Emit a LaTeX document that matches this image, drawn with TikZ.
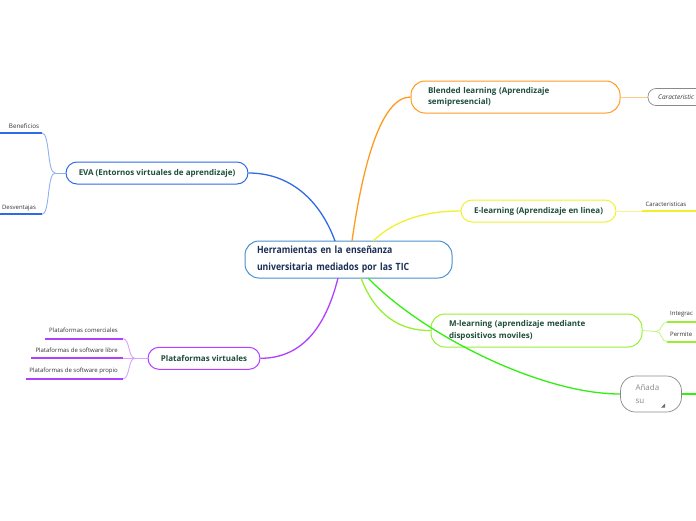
\documentclass[tikz,border=0pt]{standalone}
\usepackage{fontspec}
\setmainfont{Open Sans}
\newfontfamily\condensedfont[FakeStretch=0.87]{Open Sans}
\usetikzlibrary{calc}
\definecolor{cblue}{HTML}{4A90D0}
\definecolor{navy}{HTML}{1C2F55}
\definecolor{dgreen}{HTML}{1F4D3A}
\definecolor{bl}{HTML}{2E6BE6}
\definecolor{bllt}{HTML}{8FB0F0}
\definecolor{orng}{HTML}{FF9B1F}
\definecolor{orlt}{HTML}{FFCB8A}
\definecolor{yel}{HTML}{F0F030}
\definecolor{yellt}{HTML}{F5F590}
\definecolor{purp}{HTML}{B040FF}
\definecolor{purlt}{HTML}{D6A3FF}
\definecolor{lgrn}{HTML}{99EE33}
\definecolor{lgrnlt}{HTML}{C6F58F}
\definecolor{grn}{HTML}{33EE11}
\definecolor{gry}{HTML}{8A8A8A}
\tikzset{
  topic/.style={draw=#1, line width=1pt, fill=white, text=dgreen, inner ysep=2pt,
    font=\bfseries\fontsize{8}{11.5}\selectfont},
  leaf/.style={font=\fontsize{6}{7}\selectfont, text=black!80, inner sep=0pt},
  uline/.style={draw=#1, line width=2pt},
  conn/.style={draw=#1, line width=1.3pt},
  sub/.style={draw=#1, line width=0.9pt}
}
\begin{document}
\begin{tikzpicture}[x=1pt,y=-1pt]
\useasboundingbox (0,0) rectangle (696,520);

\coordinate (cb) at (335,241);
\coordinate (co) at (352,241);
\coordinate (cy) at (373,241);
\coordinate (cp) at (338,278);
\coordinate (clg) at (361,278);
\coordinate (cg) at (368,278);

% central node
\node[draw=cblue, line width=1pt, fill=white, rounded corners=14pt, minimum height=37pt,
  text width=183pt, inner xsep=12pt, align=left, text=navy,
  font=\condensedfont\bfseries\fontsize{10}{16.5}\selectfont] (c) at (348.5,259.5)
  {Herramientas en la enseñanza\\universitaria mediados por las TIC};

% topics
\node[topic=bl, rounded corners=11pt, minimum width=182pt, minimum height=22pt] (eva) at (157,173)
  {EVA (Entornos virtuales de aprendizaje)};
\node[topic=orng, rounded corners=14pt, minimum height=32pt, text width=175pt, inner xsep=17pt, align=left] (bld) at (515.5,97)
  {Blended learning (Aprendizaje\\semipresencial)};
\node[topic=yel, rounded corners=11pt, minimum width=155pt, minimum height=22pt] (el) at (538.5,211)
  {E-learning (Aprendizaje en linea)};
\node[topic=lgrn, rounded corners=14pt, minimum height=33pt, text width=175pt, inner xsep=18pt, align=left] (ml) at (536.5,330.5)
  {M-learning (aprendizaje mediante\\dispositivos moviles)};
\node[topic=purp, rounded corners=11pt, minimum width=112pt, minimum height=22pt] (pv) at (204,358.3)
  {Plataformas virtuales};
\node[draw=gry, line width=0.7pt, fill=white, rounded corners=15pt, minimum height=36pt, text width=31pt,
  inner xsep=15pt, align=left, text=gry, font=\fontsize{8}{13}\selectfont] (an) at (651,394)
  {Añada\\su};
\fill[gry!80!black] (665,403.5) -- (665,407.5) -- (661,407.5) -- cycle;

% main connectors
\path[conn=bl] (cb) .. controls (320,200) and (290,173) .. (eva.east);
\path[conn=orng] (co) .. controls (362,170) and (380,97) .. (bld.west);
\path[conn=yel] (cy) .. controls (395,220) and (425,211) .. (el.west);
\path[conn=purp] (cp) .. controls (325,330) and (300,358.3) .. (pv.east);
\path[conn=lgrn] (clg) .. controls (375,315) and (400,331) .. (ml.west);
\path[conn=grn] (cg) .. controls (422,334) and (540,394) .. (an.west);
\coordinate (anr) at (696,394);
\path[conn=grn] (an.east) -- (anr);

% EVA children
\coordinate (evj) at (55,173);
\coordinate (b1) at (42,133);
\coordinate (b1l) at (0,133);
\coordinate (b2) at (42,214.3);
\coordinate (b2l) at (0,214.3);
\node[leaf, font=\fontsize{6.3}{7}\selectfont] (ben) at (24,126) {Beneficios};
\node[leaf] (des) at (19,207.7) {Desventajas};
\path[sub=bllt] (eva.west) -- (evj);
\path[sub=bllt] (evj) .. controls (47,173) and (50,133) .. (b1);
\path[sub=bllt] (evj) .. controls (47,173) and (50,214.3) .. (b2);
\path[uline=bl] (b1l) -- (b1);
\path[uline=bl] (b2l) -- (b2);

% Plataformas children
\coordinate (pj) at (135,358.3);
\coordinate (p1) at (123,338.7);
\coordinate (p1l) at (45,338.7);
\coordinate (p2) at (123,358.3);
\coordinate (p2l) at (31,358.3);
\coordinate (p3) at (123,378.7);
\coordinate (p3l) at (26,378.7);
\node[leaf, anchor=east] (pc) at (118,330.7) {Plataformas comerciales};
\node[leaf, anchor=east] (pl) at (118,350.5) {Plataformas de software libre};
\node[leaf, anchor=east] (pp) at (118,370.7) {Plataformas de software propio};
\path[sub=purlt] (pv.west) -- (pj);
\path[sub=purlt] (pj) .. controls (128,358.3) and (130,338.7) .. (p1);
\path[sub=purlt] (pj) -- (p2);
\path[sub=purlt] (pj) .. controls (128,358.3) and (130,378.7) .. (p3);
\path[uline=purp] (p1l) -- (p1);
\path[uline=purp] (p2l) -- (p2);
\path[uline=purp] (p3l) -- (p3);

% Blended child (partial node at edge)
\coordinate (ch) at (648,97);
\path[sub=orlt] (bld.east) -- (ch);
\draw[gry, line width=0.7pt, rounded corners=8pt] (706,88.5) -- (648,88.5) -- (648,105.5) -- (706,105.5);
\node[leaf, anchor=west, font=\itshape\fontsize{6.5}{7}\selectfont] (car1) at (658,97) {Caracteristic};

% E-learning child
\coordinate (e1) at (642,211);
\coordinate (e1r) at (696,211);
\node[leaf, anchor=west] (car2) at (645.5,204) {Caracteristicas};
\path[sub=yellt] (el.east) -- (e1);
\path[uline=yel] (e1) -- (e1r);

% M-learning children
\coordinate (mj) at (656,331.5);
\coordinate (m1) at (667,322);
\coordinate (m1r) at (696,322);
\coordinate (m2) at (667,341.7);
\coordinate (m2r) at (696,341.7);
\node[leaf, anchor=west] (int) at (670,314.5) {Integrac};
\node[leaf, anchor=west] (per) at (670,334) {Permite};
\path[sub=lgrnlt] (ml.east) -- (mj);
\path[sub=lgrnlt] (mj) .. controls (662,331.5) and (661,322) .. (m1);
\path[sub=lgrnlt] (mj) .. controls (662,331.5) and (661,341.7) .. (m2);
\path[uline=lgrn] (m1) -- (m1r);
\path[uline=lgrn] (m2) -- (m2r);
\end{tikzpicture}
\end{document}
